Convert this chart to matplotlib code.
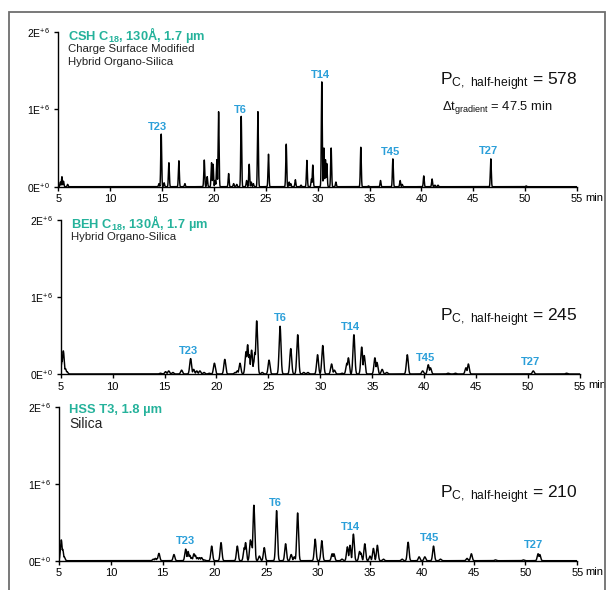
import numpy as np
import matplotlib
matplotlib.use("Agg")
import matplotlib.pyplot as plt
from matplotlib.patches import Rectangle

plt.rcParams['font.family'] = ['Liberation Sans', 'DejaVu Sans']
plt.rcParams['mathtext.default'] = 'regular'

# ---- data (time in min, height in units of 1E+6) ----
csh_t = [5.2, 5.35, 5.5, 5.9, 14.7, 14.92, 15.2, 15.66, 16.62, 17.2,
         19.07, 19.35, 19.77, 19.92, 20.12, 20.28, 20.45, 21.42, 21.9, 22.2,
         22.63, 23.15, 23.4, 23.6, 23.8, 24.24, 25.26, 26.97, 27.25, 27.4,
         27.85, 28.4, 28.96, 29.4, 29.53, 30.4, 30.6, 30.75, 30.88, 31.3,
         31.76, 34.16, 34.9, 36.06, 37.25, 37.95, 38.15, 40.23, 41.03, 41.3,
         41.6, 46.69, 50.1]
csh_h = [0.06, 0.13, 0.07, 0.03, 0.04, 0.68, 0.05, 0.31, 0.335, 0.04,
         0.345, 0.13, 0.31, 0.29, 0.08, 0.35, 0.97, 0.17, 0.04, 0.03,
         0.91, 0.08, 0.29, 0.06, 0.04, 0.97, 0.42, 0.55, 0.06, 0.04,
         0.09, 0.02, 0.34, 0.1, 0.28, 1.355, 0.5, 0.35, 0.3, 0.5,
         0.06, 0.51, 0.01, 0.08, 0.36, 0.08, 0.03, 0.14, 0.1, 0.02,
         0.02, 0.36, 0.01]

beh_t = [5.13, 5.25, 5.45, 5.6, 14.6, 15.1, 15.4, 15.8, 16.64, 17.51,
         17.8, 18.1, 18.4, 18.8, 19.3, 19.8, 20.8, 21.8, 22.0, 22.26,
         22.84, 23.0, 23.15, 23.38, 23.6, 23.7, 23.87, 24.4, 25.06, 26.12,
         27.15, 27.82, 28.4, 28.8, 29.73, 30.23, 31.08, 31.35, 32.1, 32.55,
         32.7, 33.23, 33.98, 34.22, 35.25, 35.45, 35.95, 36.4, 38.37, 39.85,
         40.39, 40.6, 42.3, 43.0, 44.02, 44.25, 50.5, 53.7]
beh_h = [0.17, 0.30, 0.07, 0.03, 0.01, 0.03, 0.04, 0.02, 0.05, 0.2,
         0.06, 0.04, 0.04, 0.02, 0.01, 0.14, 0.19, 0.02, 0.04, 0.14,
         0.29, 0.38, 0.25, 0.31, 0.15, 0.28, 0.69, 0.02, 0.18, 0.62,
         0.33, 0.51, 0.02, 0.02, 0.25, 0.37, 0.13, 0.05, 0.01, 0.14,
         0.21, 0.51, 0.35, 0.24, 0.21, 0.15, 0.06, 0.02, 0.25, 0.04,
         0.12, 0.08, 0.01, 0.01, 0.08, 0.13, 0.04, 0.01]

hss_t = [5.22, 5.35, 5.5, 14.1, 14.3, 14.5, 14.64, 16.09, 17.22, 17.45,
         17.62, 17.8, 18.02, 18.15, 18.35, 18.55, 18.75, 19.0, 19.73, 20.63,
         22.2, 22.87, 23.0, 23.47, 23.58, 23.8, 24.33, 24.8, 25.99, 26.86,
         27.4, 27.7, 28.02, 29.71, 30.35, 31.35, 31.52, 32.3, 32.82, 33.07,
         33.4, 34.0, 34.12, 34.5, 35.0, 35.33, 35.71, 36.3, 38.1, 38.68,
         39.74, 40.29, 41.13, 41.8, 44.36, 44.78, 47.1, 49.8, 51.22, 51.38]
hss_h = [0.27, 0.15, 0.05, 0.02, 0.03, 0.03, 0.095, 0.08, 0.15, 0.12,
         0.07, 0.04, 0.09, 0.07, 0.04, 0.04, 0.04, 0.01, 0.19, 0.235,
         0.19, 0.17, 0.235, 0.27, 0.24, 0.72, 0.06, 0.17, 0.65, 0.22,
         0.08, 0.05, 0.62, 0.28, 0.26, 0.09, 0.09, 0.02, 0.18, 0.2,
         0.345, 0.12, 0.1, 0.22, 0.06, 0.16, 0.2, 0.02, 0.02, 0.24,
         0.05, 0.05, 0.19, 0.02, 0.03, 0.09, 0.01, 0.01, 0.09, 0.08]

# peak labels (name, time, height of label bottom)
lab_names = ['T23', 'T6', 'T14', 'T45', 'T27']
csh_lab_t = [14.6, 22.5, 30.3, 37.0, 46.5]
csh_lab_h = [0.71, 0.925, 1.376, 0.387, 0.403]
beh_lab_t = [17.3, 26.15, 32.9, 40.1, 50.2]
beh_lab_h = [0.234, 0.667, 0.55, 0.143, 0.095]
hss_lab_t = [17.2, 25.88, 33.1, 40.76, 50.8]
hss_lab_h = [0.195, 0.68, 0.375, 0.227, 0.14]

x_ticks = [5, 10, 15, 20, 25, 30, 35, 40, 45, 50, 55]
y_ticks = [0, 1, 2]
y_tick_labels = [r'0E$^{+0}$', r'1E$^{+6}$', r'2E$^{+6}$']

panels = [
    dict(t=csh_t, h=csh_h, sig=0.045, lt=csh_lab_t, lh=csh_lab_h,
         title=r'CSH C$_{18}$, 130Å, 1.7 µm',
         sub=['Charge Surface Modified', 'Hybrid Organo-Silica'], pc='578',
         box=(58.3, 186.7, 577.0, 32.0)),
    dict(t=beh_t, h=beh_h, sig=0.09, lt=beh_lab_t, lh=beh_lab_h,
         title=r'BEH C$_{18}$, 130Å, 1.7 µm',
         sub=['Hybrid Organo-Silica'], pc='245',
         box=(60.7, 374.0, 580.0, 220.0)),
    dict(t=hss_t, h=hss_h, sig=0.085, lt=hss_lab_t, lh=hss_lab_h,
         title='HSS T3, 1.8 µm',
         sub=['Silica'], pc='210',
         box=(59.0, 560.7, 577.3, 406.7)),
]

W, H = 609, 590
teal = '#25b29b'
blue = '#2b9fd9'

fig = plt.figure(figsize=(W / 100, H / 100), dpi=100)

# grey frame round the figure
fig.patches.append(Rectangle((9 / W, -0.05), (605 - 9) / W, 1.05 - 12.3 / H,
                             transform=fig.transFigure, fill=False,
                             edgecolor='#6e6e6e', lw=1.3))

tt = np.arange(5.0, 55.0, 0.004)

for p in panels:
    x0, yb, x1, yt = p['box']
    ax = fig.add_axes([x0 / W, 1 - yb / H, (x1 - x0) / W, (yb - yt) / H])
    sig = p['sig']
    curves = [hh * np.exp(-0.5 * ((tt - t0) / sig) ** 2)
              for t0, hh in zip(p['t'], p['h'])]
    yy = np.max(np.array(curves), axis=0)
    ax.plot(tt, yy, color='black', lw=1.05)

    ax.set_xlim(5, 55)
    ax.set_ylim(0, 2)
    ax.set_xticks(x_ticks)
    ax.set_xticklabels([str(v) for v in x_ticks])
    ax.set_yticks(y_ticks)
    ax.set_yticklabels(y_tick_labels)
    for s in ['top', 'right']:
        ax.spines[s].set_visible(False)
    for s in ['left', 'bottom']:
        ax.spines[s].set_linewidth(1.0)
    ax.tick_params(axis='x', length=3, width=1, labelsize=8, pad=2.5)
    ax.tick_params(axis='y', length=3, width=1, labelsize=7.5, pad=3)
    ax.patch.set_alpha(0)
    ax.annotate('min', xy=(1, 0), xycoords='axes fraction',
                xytext=(8, -6.5), textcoords='offset pixels',
                ha='left', va='top', fontsize=8)

    for name, lt, lh in zip(lab_names, p['lt'], p['lh']):
        ax.text(lt, lh, name, ha='center', va='bottom', fontsize=8,
                fontweight='bold', color=blue)

    # titles
    fig.text((x0 + 10) / W, 1 - (yt + 3) / H, p['title'], ha='left',
             va='center', fontsize=9.3, fontweight='bold', color=teal)
    for k, line in enumerate(p['sub']):
        fs = 10 if line == 'Silica' else 8.2
        fig.text((x0 + 10) / W, 1 - (yt + 17 + 12.7 * k) / H, line,
                 ha='left', va='center', fontsize=fs, color='#222222')

# Pc annotations
pc_y = [81.7, 317.3, 495.0]
pc_x = [577.0, 578.0, 577.3]
for p, yy_, xx_ in zip(panels, pc_y, pc_x):
    fig.text(xx_ / W, 1 - yy_ / H,
             r'P$_{C,\ half‐height}$ = ' + p['pc'],
             ha='right', va='center', fontsize=12.5, color='#111111')

fig.text(552 / W, 1 - 107.3 / H, r'$\Delta$t$_{gradient}$ = 47.5 min',
         ha='right', va='center', fontsize=9.3, color='#111111')

fig.savefig('out.png', dpi=100)
